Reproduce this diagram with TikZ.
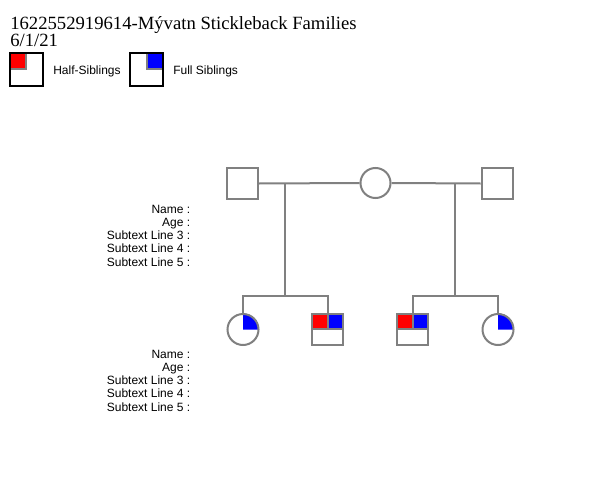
\documentclass[tikz,border=0pt]{standalone}
\usepackage{fontspec}
\setmainfont{Liberation Serif}
\newfontfamily\arialf{Liberation Sans}
\definecolor{pgrey}{HTML}{808080}
\begin{document}
\begin{tikzpicture}[x=0.75pt,y=-0.75pt,
  ped/.style={draw=pgrey,line width=1.5pt},
  lbl/.style={anchor=base east,inner sep=0pt,font=\arialf\fontsize{9pt}{10pt}\selectfont},
  leg/.style={anchor=base west,inner sep=0pt,font=\arialf\fontsize{9pt}{10pt}\selectfont},
  legbox/.style={draw=black,line width=1.5pt},
  ttl/.style={anchor=base west,inner sep=0pt,font=\fontsize{14pt}{16pt}\selectfont}]
\useasboundingbox[fill=white] (0,0) rectangle (599,492);
% title
\node[ttl] (title) at (10,30) {1622552919614-Mývatn Stickleback Families};
\node[ttl] (date) at (10,46.7) {6/1/21};
% legend
\fill[red] (11,54) rectangle (25.5,68.5);
\draw[pgrey,line width=1.5pt] (26,53) -- (26,69.5) -- (11,69.5);
\draw[legbox] (10,53) rectangle (42.5,85.5);
\node[leg] (half) at (53,74.3) {Half-Siblings};
\fill[blue] (147.5,54) rectangle (162,68.5);
\draw[pgrey,line width=1.5pt] (147,53) -- (147,69.5) -- (162,69.5);
\draw[legbox] (130,53) rectangle (162.5,85.5);
\node[leg] (full) at (173,74.3) {Full Siblings};
% parents
\node[ped,minimum size=33*0.75pt-1.5pt,inner sep=0pt] (f1) at (242.5,183.5) {};
\node[ped,circle,minimum size=32*0.75pt-1.5pt,inner sep=0pt] (m) at (375.5,183) {};
\node[ped,minimum size=33*0.75pt-1.5pt,inner sep=0pt] (f2) at (497,183.5) {};
\draw[ped] (f1.east) -- (m.west);
\draw[ped] (m.east) -- (f2.west);
\coordinate (j1) at (285,183.3);
\coordinate (j2) at (455,183.3);
\coordinate (k1) at (285,295.5);
\coordinate (k2) at (455,295.5);
\draw[ped] (j1) -- (k1);
\draw[ped] (j2) -- (k2);
% children left family
\fill[blue] (243,329.5) -- (243,313.5) arc[start angle=90,end angle=0,radius=16*0.75pt] -- cycle;
\node[ped,circle,minimum size=33*0.75pt-1.5pt,inner sep=0pt] (c1) at (243,329.5) {};
\node[ped,minimum size=33*0.75pt-1.5pt,inner sep=0pt] (c2) at (327.5,329) {};
\fill[red] (c2.north west) rectangle (c2.center);
\fill[blue] (c2.north) rectangle (c2.east);
\draw[ped] (c2.west) -- (c2.east);
\draw[ped] (c2.north) -- (c2.center);
\node[ped,minimum size=33*0.75pt-1.5pt,inner sep=0pt] (c2b) at (327.5,329) {};
\draw[ped] (c1.north) -- (243,295.5) -- (327.5,295.5) -- (c2.north);
% children right family
\node[ped,minimum size=33*0.75pt-1.5pt,inner sep=0pt] (c3) at (412.5,329) {};
\fill[red] (c3.north west) rectangle (c3.center);
\fill[blue] (c3.north) rectangle (c3.east);
\draw[ped] (c3.west) -- (c3.east);
\draw[ped] (c3.north) -- (c3.center);
\node[ped,minimum size=33*0.75pt-1.5pt,inner sep=0pt] (c3b) at (412.5,329) {};
\fill[blue] (498,329.5) -- (498,313.5) arc[start angle=90,end angle=0,radius=16*0.75pt] -- cycle;
\node[ped,circle,minimum size=33*0.75pt-1.5pt,inner sep=0pt] (c4) at (498,329.5) {};
\draw[ped] (c3.north) -- (412.5,295.5) -- (498,295.5) -- (c4.north);
% subtext labels
\node[lbl] (n1) at (190.5,213) {Name :};
\node[lbl] (a1) at (190.5,226.3) {Age :};
\node[lbl] (s31) at (190.5,239.5) {Subtext Line 3 :};
\node[lbl] (s41) at (190.5,252.8) {Subtext Line 4 :};
\node[lbl] (s51) at (190.5,266) {Subtext Line 5 :};
\node[lbl] (n2) at (190.5,358) {Name :};
\node[lbl] (a2) at (190.5,371.3) {Age :};
\node[lbl] (s32) at (190.5,384.5) {Subtext Line 3 :};
\node[lbl] (s42) at (190.5,397.8) {Subtext Line 4 :};
\node[lbl] (s52) at (190.5,411) {Subtext Line 5 :};
\end{tikzpicture}
\end{document}
